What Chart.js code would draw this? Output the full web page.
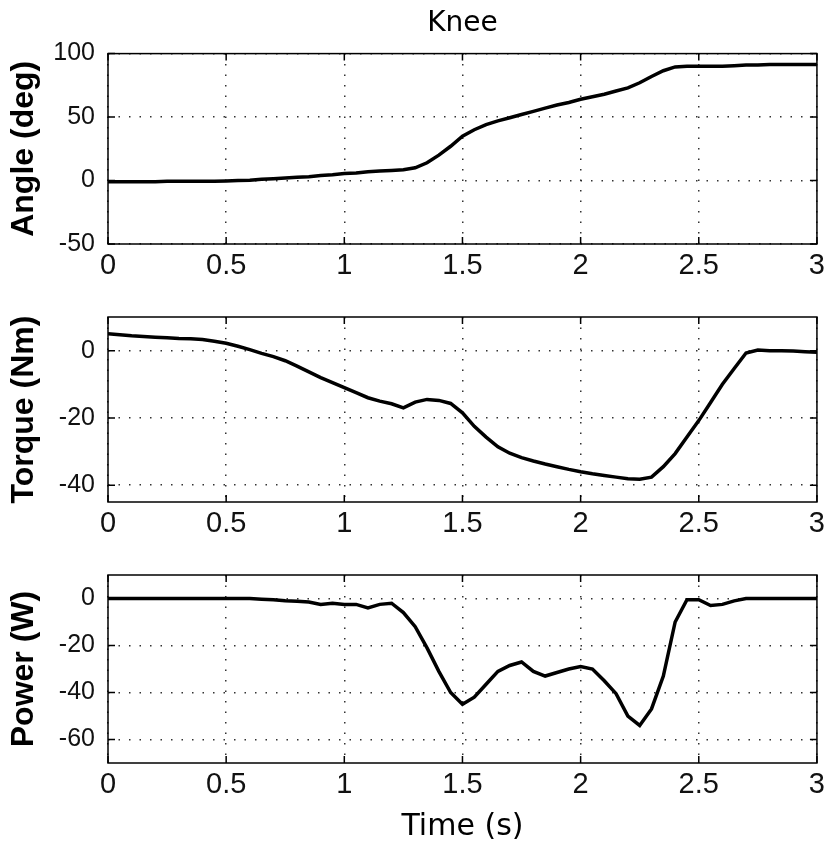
<!DOCTYPE html>
<html>
<head>
<meta charset="utf-8">
<title>Knee</title>
<script src="https://cdn.jsdelivr.net/npm/chart.js@4.4.0/dist/chart.umd.min.js"></script>
<style>
  body { margin: 0; background: #fff; width: 830px; height: 845px; position: relative; overflow: hidden; }
  canvas { position: absolute; left: 0; }
</style>
</head>
<body>
<canvas id="angleChart" width="830" height="284" style="top:0px"></canvas>
<canvas id="torqueChart" width="830" height="253" style="top:289px"></canvas>
<canvas id="powerChart" width="830" height="298" style="top:547px"></canvas>
<script>
// time samples (s), every 0.05 s
const timeSec = [
  0, 0.05, 0.1, 0.15, 0.2, 0.25, 0.3, 0.35, 0.4, 0.45,
  0.5, 0.55, 0.6, 0.65, 0.7, 0.75, 0.8, 0.85, 0.9, 0.95,
  1.0, 1.05, 1.1, 1.15, 1.2, 1.25, 1.3, 1.35, 1.4, 1.45,
  1.5, 1.55, 1.6, 1.65, 1.7, 1.75, 1.8, 1.85, 1.9, 1.95,
  2.0, 2.05, 2.1, 2.15, 2.2, 2.25, 2.3, 2.35, 2.4, 2.45,
  2.5, 2.55, 2.6, 2.65, 2.7, 2.75, 2.8, 2.85, 2.9, 2.95, 3.0
];

// knee angle (deg)
const angleDeg = [
  -1, -1, -1, -1, -1, -0.5, -0.5, -0.5, -0.5, -0.5,
  -0.3, 0, 0.3, 1, 1.5, 2, 2.5, 3, 4, 4.5,
  5.5, 6, 7, 7.5, 8, 8.5, 10, 14, 20, 27,
  35, 40, 44, 47, 49.5, 52, 54.5, 57, 59.5, 61.5,
  64, 66, 68, 70.5, 73, 77, 82, 86.5, 89.5, 90,
  90, 90, 90, 90.5, 91, 91, 91.5, 91.5, 91.5, 91.5, 91.5
];

// knee torque (Nm)
const torqueNm = [
  5, 4.7, 4.4, 4.2, 4, 3.8, 3.6, 3.5, 3.3, 2.8,
  2.2, 1.3, 0.3, -0.8, -1.8, -3, -4.6, -6.3, -8, -9.5,
  -11, -12.5, -14, -15, -15.8, -17, -15.3, -14.5, -14.8, -15.7,
  -18.5, -22.5, -25.7, -28.6, -30.5, -31.8, -32.8, -33.7, -34.5, -35.3,
  -36, -36.6, -37.1, -37.6, -38.1, -38.2, -37.6, -34.5, -30.6, -25.7,
  -20.8, -15.4, -10, -5.3, -0.7, 0.2, 0, 0, -0.1, -0.3, -0.5
];

// knee power (W)
const powerW = [
  0, 0, 0, 0, 0, 0, 0, 0, 0, 0,
  0, 0, 0, -0.3, -0.5, -1, -1.2, -1.5, -2.5, -2,
  -2.5, -2.5, -4, -2.5, -2, -6, -12, -21, -31, -40,
  -45, -42, -36.5, -31, -28.5, -27, -31, -33, -31.5, -30,
  -29, -30, -35, -40.5, -50, -54, -47, -33, -10, -0.5,
  -0.5, -3, -2.5, -1, 0, 0, 0, 0, 0, 0, 0
];

// tick values
const timeTicks = [0, 0.5, 1, 1.5, 2, 2.5, 3];
const angleTicks = [-50, 0, 50, 100];
const torqueTicks = [-40, -20, 0];
const powerTicks = [-60, -40, -20, 0];

const sans = "'Liberation Sans', Arial, sans-serif";

// frame round the plot area with inward tick marks
const frameBox = {
  id: 'frameBox',
  afterDatasetsDraw(chart) {
    const { ctx, chartArea: a, scales } = chart;
    const len = 7;
    ctx.save();
    ctx.strokeStyle = '#000';
    ctx.lineWidth = 1.5;
    ctx.strokeRect(a.left, a.top, a.right - a.left, a.bottom - a.top);
    ctx.beginPath();
    scales.x.ticks.forEach(t => {
      const px = scales.x.getPixelForValue(t.value);
      ctx.moveTo(px, a.top); ctx.lineTo(px, a.top + len);
      ctx.moveTo(px, a.bottom); ctx.lineTo(px, a.bottom - len);
    });
    scales.y.ticks.forEach(t => {
      const py = scales.y.getPixelForValue(t.value);
      ctx.moveTo(a.left, py); ctx.lineTo(a.left + len, py);
      ctx.moveTo(a.right, py); ctx.lineTo(a.right - len, py);
    });
    ctx.stroke();
    ctx.restore();
  }
};

function makeChart(id, values, yTitle, yMin, yMax, yTicks, opts) {
  const ctx = document.getElementById(id).getContext('2d');
  return new Chart(ctx, {
    type: 'line',
    data: {
      datasets: [{
        data: timeSec.map((t, i) => ({ x: t, y: values[i] })),
        borderColor: '#000',
        borderWidth: 3.5,
        pointRadius: 0,
        tension: 0,
        fill: false
      }]
    },
    options: {
      responsive: false,
      animation: false,
      layout: { padding: { top: opts.padTop, right: 8, left: 0, bottom: 0 } },
      plugins: {
        legend: { display: false },
        tooltip: { enabled: false },
        title: opts.title ? {
          display: true,
          text: opts.title,
          fullSize: false,
          color: '#000',
          font: { family: "'DejaVu Sans', sans-serif", size: 28, weight: 'normal' },
          padding: { top: 7, bottom: 13 }
        } : { display: false }
      },
      scales: {
        x: {
          type: 'linear',
          min: 0,
          max: 3,
          afterBuildTicks: s => { s.ticks = timeTicks.map(v => ({ value: v })); },
          afterFit: s => { s.height = opts.xHeight; },
          grid: { color: '#333', lineWidth: 1.5, drawTicks: false },
          border: { display: false, dash: [1.5, 9] },
          ticks: {
            color: '#111',
            padding: 5,
            maxRotation: 0,
            font: { family: sans, size: 29 },
            callback: v => String(v)
          },
          title: opts.xTitle ? {
            display: true,
            text: opts.xTitle,
            color: '#000',
            font: { family: "'DejaVu Sans', sans-serif", size: 30 },
            padding: { top: 0, bottom: 0 }
          } : { display: false }
        },
        y: {
          min: yMin,
          max: yMax,
          afterBuildTicks: s => { s.ticks = yTicks.map(v => ({ value: v })); },
          afterFit: s => { s.width = 108; },
          grid: { color: '#333', lineWidth: 1.5, drawTicks: false },
          border: { display: false, dash: [1.5, 9] },
          ticks: {
            color: '#111',
            padding: 13,
            font: { family: sans, size: 25 },
            callback: v => String(v)
          },
          title: {
            display: true,
            text: yTitle,
            color: '#000',
            font: { family: sans, size: 32, weight: 'bold' },
            padding: { top: 5, bottom: 0 }
          }
        }
      }
    },
    plugins: [frameBox]
  });
}

makeChart('angleChart', angleDeg, 'Angle (deg)', -50, 100, angleTicks,
  { title: 'Knee', padTop: 0, xHeight: 40 });
makeChart('torqueChart', torqueNm, 'Torque (Nm)', -45, 10, torqueTicks,
  { padTop: 28, xHeight: 40 });
makeChart('powerChart', powerW, 'Power (W)', -70, 10, powerTicks,
  { padTop: 28, xHeight: 82, xTitle: 'Time (s)' });
</script>
</body>
</html>
